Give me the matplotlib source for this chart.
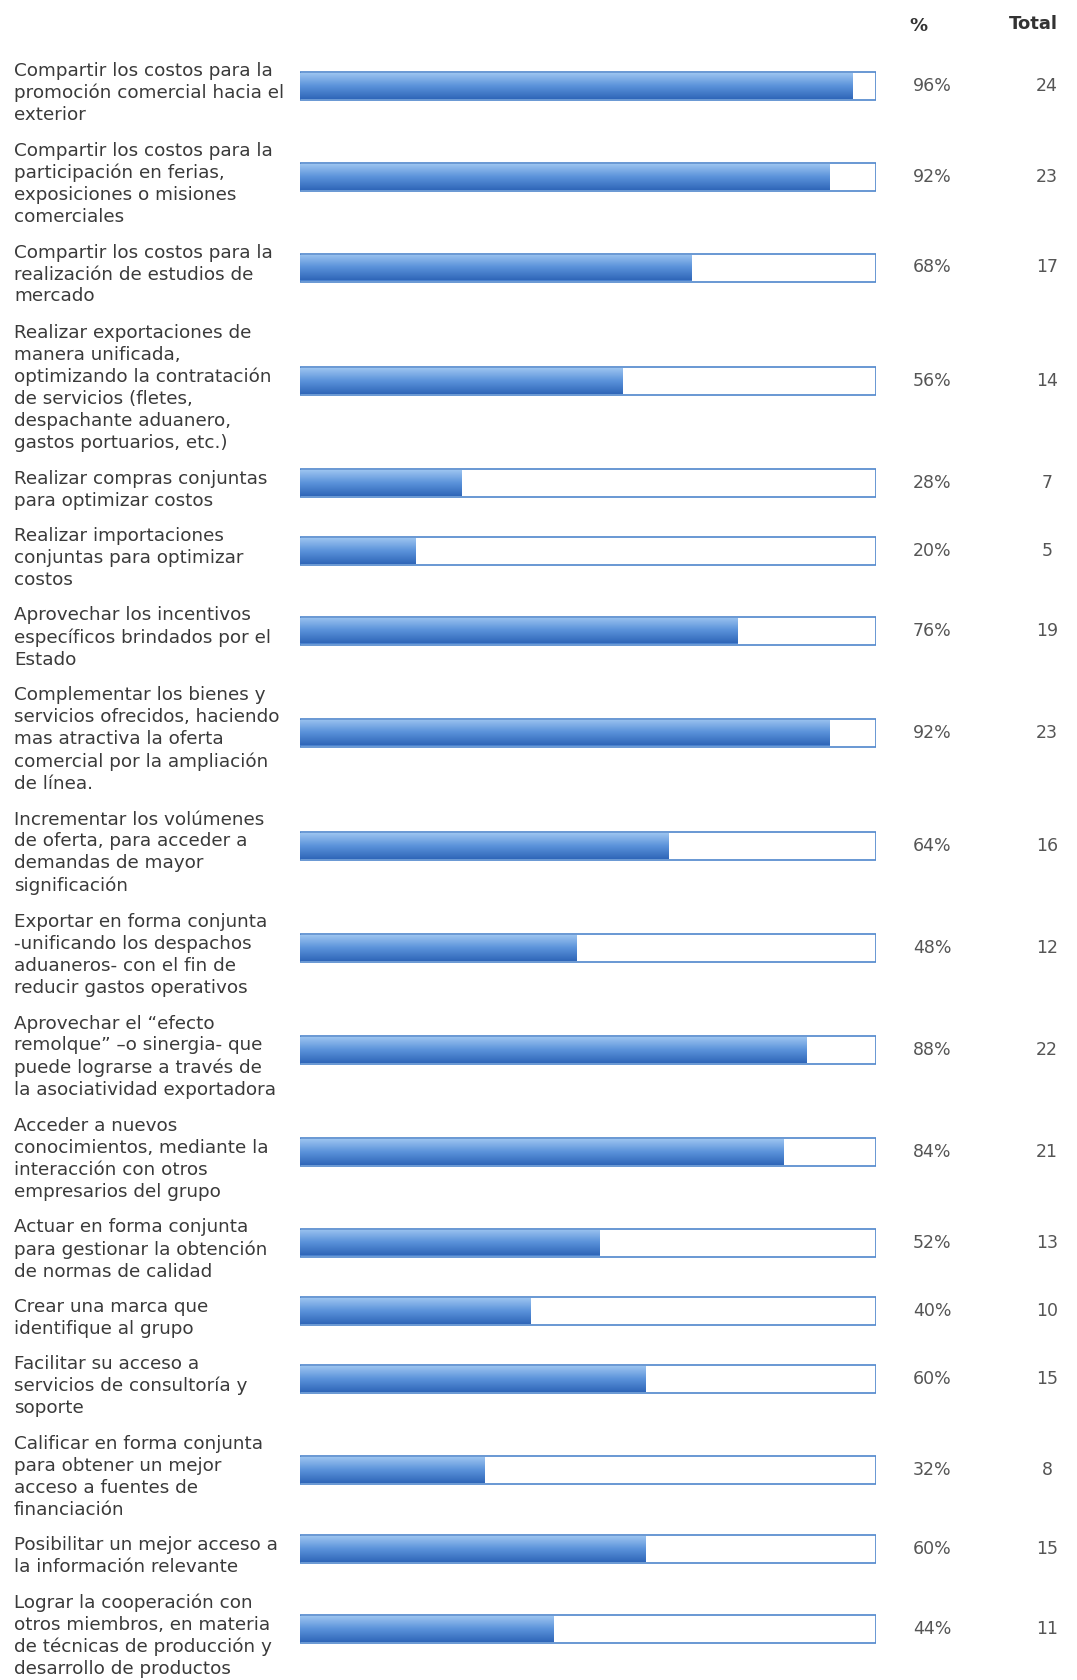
import matplotlib.pyplot as plt
import numpy as np
from matplotlib.colors import LinearSegmentedColormap

plt.rcParams["font.family"] = ["DejaVu Sans"]

labels = [
    "Compartir los costos para la\npromoción comercial hacia el\nexterior",
    "Compartir los costos para la\nparticipación en ferias,\nexposiciones o misiones\ncomerciales",
    "Compartir los costos para la\nrealización de estudios de\nmercado",
    "Realizar exportaciones de\nmanera unificada,\noptimizando la contratación\nde servicios (fletes,\ndespachante aduanero,\ngastos portuarios, etc.)",
    "Realizar compras conjuntas\npara optimizar costos",
    "Realizar importaciones\nconjuntas para optimizar\ncostos",
    "Aprovechar los incentivos\nespecíficos brindados por el\nEstado",
    "Complementar los bienes y\nservicios ofrecidos, haciendo\nmas atractiva la oferta\ncomercial por la ampliación\nde línea.",
    "Incrementar los volúmenes\nde oferta, para acceder a\ndemandas de mayor\nsignificación",
    "Exportar en forma conjunta\n-unificando los despachos\naduaneros- con el fin de\nreducir gastos operativos",
    "Aprovechar el “efecto\nremolque” –o sinergia- que\npuede lograrse a través de\nla asociatividad exportadora",
    "Acceder a nuevos\nconocimientos, mediante la\ninteracción con otros\nempresarios del grupo",
    "Actuar en forma conjunta\npara gestionar la obtención\nde normas de calidad",
    "Crear una marca que\nidentifique al grupo",
    "Facilitar su acceso a\nservicios de consultoría y\nsoporte",
    "Calificar en forma conjunta\npara obtener un mejor\nacceso a fuentes de\nfinanciación",
    "Posibilitar un mejor acceso a\nla información relevante",
    "Lograr la cooperación con\notros miembros, en materia\nde técnicas de producción y\ndesarrollo de productos",
]
pct = [96, 92, 68, 56, 28, 20, 76, 92, 64, 48, 88, 84, 52, 40, 60, 32, 60, 44]
total = [24, 23, 17, 14, 7, 5, 19, 23, 16, 12, 22, 21, 13, 10, 15, 8, 15, 11]

W, H = 1077, 1680
line_h = 22.5
gap = 12
bar_h = 28
left_px, right_px = 300, 876
txt_col = "#3a3a3a"

# row centres (pixels from top) from the number of label lines
nlines = np.array([l.count("\n") + 1 for l in labels])
heights = nlines * line_h + gap
centers = [86.0]
for i in range(1, len(labels)):
    centers.append(centers[-1] + (heights[i - 1] + heights[i]) / 2)
centers = np.array(centers)

fig = plt.figure(figsize=(W / 100, H / 100), dpi=100)
ax = fig.add_axes([left_px / W, 0, (right_px - left_px) / W, 1])

def fx(px):
    return (px - left_px) / (right_px - left_px)

tr = ax.get_yaxis_transform()

# white 100% boxes, then the filled part
ax.barh(centers, [100] * len(pct), height=bar_h, color="white",
        edgecolor="#4f86cc", linewidth=1.2)
bars = ax.barh(centers, pct, height=bar_h - 2, color="#4a82cf", linewidth=0)

grad = np.linspace(0, 1, 256).reshape(-1, 1)
cmap = LinearSegmentedColormap.from_list("g", ["#9cc4f0", "#5a92da", "#2f66b8"])
for b in bars:
    y0 = b.get_y()
    im = ax.imshow(grad, cmap=cmap, aspect="auto",
                   extent=(0, 100, y0 + b.get_height(), y0), zorder=3)
    im.set_clip_path(b)
ax.set_xlim(0, 100)
ax.set_ylim(H, 0)
ax.axis("off")

for y, lab, p, t in zip(centers, labels, pct, total):
    ax.text(fx(14), y + 7, lab, transform=tr, ha="left", va="center",
            fontsize=13.2, color=txt_col, linespacing=1.28, clip_on=False)
    ax.text(fx(932), y, f"{p}%", transform=tr, ha="center", va="center",
            fontsize=12.5, color="#555555", clip_on=False)
    ax.text(fx(1047), y, f"{t}", transform=tr, ha="center", va="center",
            fontsize=12.5, color="#555555", clip_on=False)

ax.text(fx(918), 26, "%", transform=tr, ha="center", va="center",
        fontsize=13, fontweight="bold", color="#333333", clip_on=False)
ax.text(fx(1033), 24, "Total", transform=tr, ha="center", va="center",
        fontsize=13, fontweight="bold", color="#333333", clip_on=False)

fig.savefig("out.png", dpi=100, facecolor="white")
